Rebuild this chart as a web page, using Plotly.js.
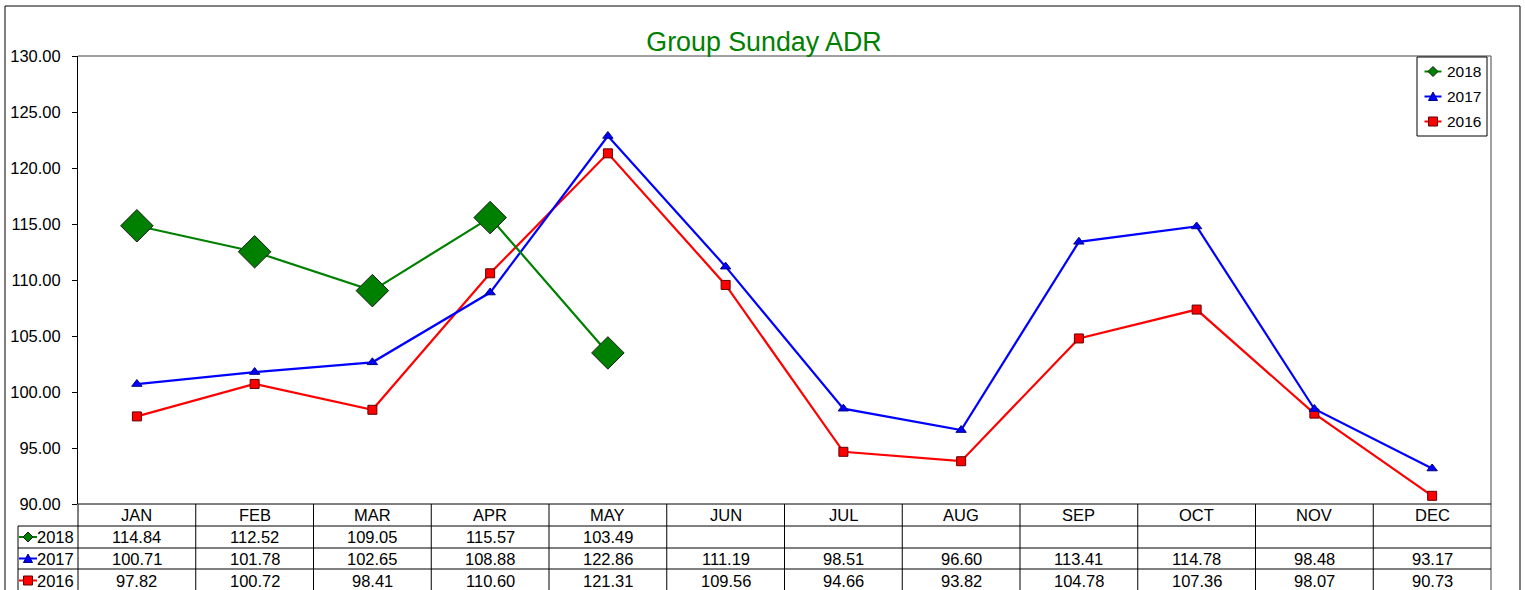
<!DOCTYPE html>
<html>
<head>
<meta charset="utf-8">
<script src="https://cdn.plot.ly/plotly-3.0.1.min.js"></script>
<style>html,body{margin:0;padding:0;background:#fff;}#chart{width:1525px;height:590px;}</style>
</head>
<body>
<div id="chart"></div>
<script>
// ---- data ----
var months = ['JAN','FEB','MAR','APR','MAY','JUN','JUL','AUG','SEP','OCT','NOV','DEC'];
var seriesNames = ['2018','2017','2016'];
var v2018 = [114.84,112.52,109.05,115.57,103.49,null,null,null,null,null,null,null];
var v2017 = [100.71,101.78,102.65,108.88,122.86,111.19,98.51,96.60,113.41,114.78,98.48,93.17];
var v2016 = [97.82,100.72,98.41,110.60,121.31,109.56,94.66,93.82,104.78,107.36,98.07,90.73];
var yTicks = [90,95,100,105,110,115,120,125,130];

// ---- geometry (pixels) ----
var W = 1525, H = 590;
var L = 78, R = 1491, T = 56, B = 504;
var PW = R - L, PH = B - T;
function px(X){ return (X - L) / PW; }
function py(Y){ return (B - Y) / PH; }
var FONT = '"Liberation Sans", Arial, sans-serif';

var styles = {
  '2018': {color:'#008000', symbol:'diamond', size:25, lineColor:'#1a1a1a', mini:'diamond'},
  '2017': {color:'#0000FF', symbol:'triangle-up', size:9, lineColor:'#000080', mini:'triangle'},
  '2016': {color:'#FF0000', symbol:'square', size:9, lineColor:'#600000', mini:'square'}
};
var valuesByName = {'2018': v2018, '2017': v2017, '2016': v2016};

// ---- traces ----
var drawOrder = ['2016','2017','2018'];
var traces = drawOrder.map(function(n){
  var s = styles[n];
  return {
    type:'scatter', mode:'lines+markers', name:n,
    x: months, y: valuesByName[n],
    line:{color:s.color, width:2.2},
    marker:{symbol:s.symbol, size:s.size, color:s.color, line:{color:s.lineColor, width:1}},
    showlegend:false, cliponaxis:false
  };
});

var shapes = [];
var annotations = [];
function line(x0,y0,x1,y1,color,w){
  shapes.push({type:'line', xref:'paper', yref:'paper', x0:px(x0), y0:py(y0), x1:px(x1), y1:py(y1),
    line:{color:color, width:w||1}, layer:'above'});
}
function poly(pts, fill, stroke){
  var d = pts.map(function(p,i){ return (i?'L':'M') + px(p[0]) + ',' + py(p[1]); }).join(' ') + ' Z';
  shapes.push({type:'path', xref:'paper', yref:'paper', path:d, fillcolor:fill, line:{color:stroke, width:1}, layer:'above'});
}
function icon(cx, cy, halfLen, name){
  var s = styles[name];
  line(cx-halfLen, cy, cx+halfLen, cy, s.color, 2);
  var r = 4.5;
  if (s.mini === 'diamond') poly([[cx-r-0.5,cy],[cx,cy-r-0.5],[cx+r+0.5,cy],[cx,cy+r+0.5]], s.color, s.lineColor);
  else if (s.mini === 'triangle') poly([[cx-r,cy+r-0.5],[cx+r,cy+r-0.5],[cx,cy-r]], s.color, s.lineColor);
  else poly([[cx-r,cy-r],[cx+r,cy-r],[cx+r,cy+r],[cx-r,cy+r]], s.color, s.lineColor);
}

// outer frame
shapes.push({type:'rect', xref:'paper', yref:'paper', x0:px(5), y0:py(6), x1:px(1520), y1:py(600),
  line:{color:'#000', width:1}, fillcolor:'rgba(0,0,0,0)', layer:'below'});
// plot borders
line(L, T, R, T, '#808080', 1.5);
line(R, T, R, 592, '#808080', 1.5);
line(L, B, R, B, '#000', 1);

// ---- data table ----
var rowY = [504, 526, 548, 569, 592];
var colW = PW / months.length;
for (var r = 1; r < rowY.length; r++) line(18, rowY[r], R, rowY[r], '#000', 1);
line(18, 526, 18, 592, '#000', 1);
for (var k = 0; k < months.length; k++) {
  if (k > 0) line(L + k*colW, 504, L + k*colW, 592, '#000', 1);
}
line(L, B, L, 592, '#000', 1);

function cellText(text, cx, cy, size){
  annotations.push({xref:'paper', yref:'paper', x:px(cx), y:py(cy), text:text, showarrow:false,
    xanchor:'center', yanchor:'middle', font:{family:FONT, size:size||16.5, color:'#000'}});
}
months.forEach(function(m,i){ cellText(m, L + (i+0.5)*colW, 515); });
seriesNames.forEach(function(n, ri){
  var cy = (rowY[ri+1] + rowY[ri+2]) / 2;
  icon(28, cy, 9, n);
  annotations.push({xref:'paper', yref:'paper', x:px(37), y:py(cy), text:n, showarrow:false,
    xanchor:'left', yanchor:'middle', xshift:-2, font:{family:FONT, size:16.5, color:'#000'}});
  valuesByName[n].forEach(function(v,i){
    if (v !== null) cellText(v.toFixed(2), L + (i+0.5)*colW, cy);
  });
});

// ---- legend (custom) ----
shapes.push({type:'rect', xref:'paper', yref:'paper', x0:px(1417), y0:py(57), x1:px(1487), y1:py(136),
  line:{color:'#000', width:1}, fillcolor:'#fff', layer:'above'});
var legY = [71.5, 96.5, 121.5];
seriesNames.forEach(function(n, i){
  icon(1433, legY[i], 8.5, n);
  annotations.push({xref:'paper', yref:'paper', x:px(1445), y:py(legY[i]), text:n, showarrow:false,
    xanchor:'left', yanchor:'middle', font:{family:FONT, size:15.5, color:'#000'}});
});

var layout = {
  width: W, height: H,
  margin:{l:L, r:W-R, t:T, b:H-B, pad:0},
  paper_bgcolor:'#fff', plot_bgcolor:'#fff',
  font:{family:FONT, size:16.5, color:'#000'},
  title:{text:'Group Sunday ADR', font:{family:FONT, size:26.8, color:'#008000'},
    xref:'container', x:764/W, xanchor:'center', yref:'container', y:1-42/H, yanchor:'middle'},
  showlegend:false,
  xaxis:{type:'category', range:[-0.5, 11.5], showticklabels:false, ticks:'', showgrid:false,
    zeroline:false, showline:false, fixedrange:true},
  yaxis:{range:[90,130], tickvals:yTicks, ticktext:yTicks.map(function(v){return v.toFixed(2);}),
    ticks:'outside', ticklen:5, tickcolor:'#000', tickwidth:1, showline:true, linecolor:'#000', linewidth:1,
    showgrid:false, zeroline:false, ticklabelstandoff:8, tickfont:{family:FONT, size:16.5, color:'#000'}},
  shapes: shapes,
  annotations: annotations
};
Plotly.newPlot('chart', traces, layout, {displayModeBar:false, staticPlot:true});
</script>
</body>
</html>
